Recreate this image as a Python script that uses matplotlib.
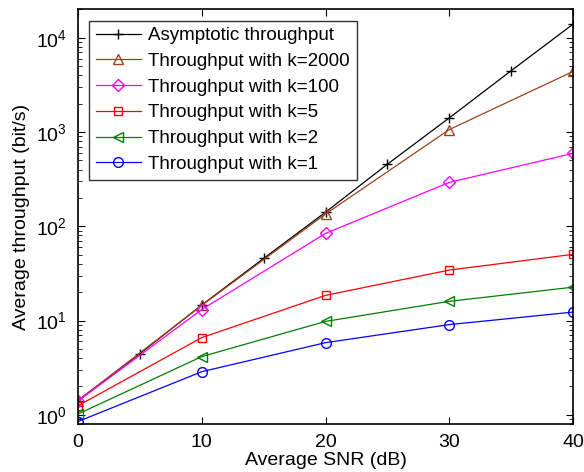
import matplotlib
matplotlib.use("Agg")
import matplotlib.pyplot as plt
from matplotlib.ticker import LogLocator, NullFormatter

plt.rcParams['font.family'] = ['Liberation Sans', 'DejaVu Sans']
plt.rcParams['mathtext.fontset'] = 'custom'
plt.rcParams['mathtext.rm'] = 'Liberation Sans'

snr_asym = [0, 5, 10, 15, 20, 25, 30, 35, 40]
asym = [1.42, 4.46, 14.6, 45.6, 141, 455, 1410, 4460, 13900]

snr = [0, 10, 20, 30, 40]
k2000 = [1.42, 14.5, 135, 1060, 4380]
k100 = [1.40, 13.1, 84, 292, 593]
k5 = [1.25, 6.6, 18.5, 34.3, 50.4]
k2 = [1.02, 4.15, 9.8, 16.0, 22.6]
k1 = [0.85, 2.87, 5.83, 9.06, 12.3]

labels = ["Asymptotic throughput", "Throughput with k=2000", "Throughput with k=100",
          "Throughput with k=5", "Throughput with k=2", "Throughput with k=1"]

fig = plt.figure(figsize=(5.84, 4.72), dpi=100)
ax = fig.add_axes([78/584, 1-424/472, (573-78)/584, (424-9.3)/472])

ax.plot(snr_asym, asym, color='black', marker='+', ms=7, lw=0.9, mew=1, label=labels[0])
ax.plot(snr, k2000, color='#A0401A', marker='^', ms=7, lw=0.9, mfc='none', mew=1, label=labels[1])
ax.plot(snr, k100, color='#FF00FF', marker='D', ms=6, lw=0.9, mfc='none', mew=1, label=labels[2])
ax.plot(snr, k5, color='#FF0000', marker='s', ms=6, lw=0.9, mfc='none', mew=1, label=labels[3])
ax.plot(snr, k2, color='#008000', marker='<', ms=7, lw=0.9, mfc='none', mew=1, label=labels[4])
ax.plot(snr, k1, color='#0000FF', marker='o', ms=7, lw=0.9, mfc='none', mew=1, label=labels[5])

ax.set_yscale('log')
ax.set_xlim(0, 40)
ax.set_ylim(0.8, 2.0e4)
ax.set_xticks([0, 10, 20, 30, 40])
ax.yaxis.set_major_locator(LogLocator(base=10, numticks=10))
ax.yaxis.set_minor_locator(LogLocator(base=10, subs=range(2, 10), numticks=20))
ax.yaxis.set_minor_formatter(NullFormatter())
ax.tick_params(which='both', direction='in', top=True, right=True, labelsize=14)
ax.tick_params(which='major', length=5)
ax.tick_params(which='minor', length=3)
ax.tick_params(axis='x', pad=7)
ax.tick_params(axis='y', pad=8)
for s in ax.spines.values():
    s.set_linewidth(1.2)

ax.set_xlabel('Average SNR (dB)', fontsize=14, labelpad=1)
ax.set_ylabel('Average throughput (bit/s)', fontsize=14, labelpad=4)

leg = ax.legend(loc='upper left', fontsize=13.5, frameon=True, fancybox=False,
                edgecolor='black', handlelength=2.4, handletextpad=0.4,
                borderaxespad=0.6, labelspacing=0.46, borderpad=0.35)
leg.get_frame().set_linewidth(1)

fig.savefig('out.png', dpi=100)
